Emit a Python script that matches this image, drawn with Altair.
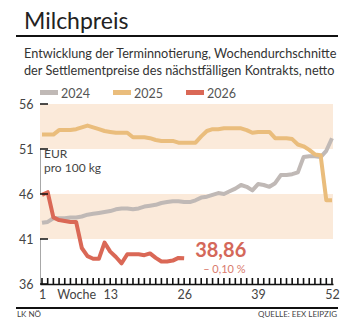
import altair as alt
import pandas as pd

# Weekly averages of the front-month settlement price, EUR per 100 kg
weeks = list(range(1, 53))
price_2024 = [
    42.8, 42.9, 43.3, 43.3, 43.3, 43.4, 43.4, 43.5, 43.7, 43.8,
    43.9, 44.0, 44.1, 44.3, 44.4, 44.4, 44.3, 44.4, 44.6, 44.7,
    44.8, 45.0, 45.1, 45.2, 45.2, 45.1, 45.1, 45.3, 45.6, 45.7,
    45.9, 46.1, 46.0, 46.3, 46.6, 47.0, 46.8, 46.4, 47.1, 47.0,
    46.8, 47.2, 48.1, 48.1, 48.2, 48.4, 50.1, 50.2, 50.2, 50.1,
    50.8, 52.2,
]
price_2025 = [
    52.6, 52.6, 52.6, 53.1, 53.1, 53.1, 53.2, 53.4, 53.6, 53.4,
    53.2, 53.0, 52.9, 52.8, 52.8, 52.8, 52.3, 52.3, 52.3, 52.2,
    52.0, 51.9, 51.9, 51.9, 51.7, 51.7, 51.7, 51.7, 52.4, 53.0,
    53.2, 53.2, 53.3, 53.3, 53.3, 53.3, 53.1, 52.8, 52.9, 52.9,
    52.9, 52.2, 52.2, 52.2, 52.1, 51.5, 51.3, 50.9, 50.4, 50.3,
    45.3, 45.3,
]
weeks_2026 = list(range(1, 27))
price_2026 = [
    45.9, 46.2, 43.4, 43.1, 43.0, 42.9, 42.9, 40.0, 39.1, 38.8,
    38.8, 40.6, 39.6, 39.0, 38.3, 39.3, 39.3, 39.3, 39.2, 39.4,
    38.9, 38.5, 38.5, 38.6, 38.90, 38.86,
]

years = ["2024", "2025", "2026"]
year_colors = ["#C0B9B6", "#EABD7C", "#DA6856"]
band_low = [41, 51]
band_high = [46, 56]
y_ticks = [36, 41, 46, 51, 56]
x_labels = [1, 7, 13, 26, 39, 52]

FONT = "Lato"
W, H = 293, 180

df = pd.concat([
    pd.DataFrame({"Woche": weeks, "Preis": price_2024, "Jahr": "2024"}),
    pd.DataFrame({"Woche": weeks, "Preis": price_2025, "Jahr": "2025"}),
    pd.DataFrame({"Woche": weeks_2026, "Preis": price_2026, "Jahr": "2026"}),
])

xs = alt.Scale(domain=[0.648, 52.18], nice=False, zero=False)
ys = alt.Scale(domain=[36, 56], nice=False, zero=False)

x_axis = alt.Axis(
    values=x_labels, tickSize=0, grid=False, title=None,
    domainColor="#111", domainWidth=1.5, labelPadding=4,
    labelFont=FONT, labelFontSize=12.5, labelColor="#444",
    labelOverlap=False, labelFlush=False,
    labelExpr="datum.value == 7 ? 'Woche' : datum.label",
)
y_axis = alt.Axis(
    values=y_ticks, tickSize=0, grid=False, title=None,
    domainColor="#A8A8A8", domainWidth=1, labelPadding=7,
    labelFont=FONT, labelFontSize=12.5, labelColor="#444",
)

bands = alt.Chart(pd.DataFrame({"lo": band_low, "hi": band_high})).mark_rect(
    color="#FBEADA"
).encode(
    y=alt.Y("lo:Q", scale=ys, axis=y_axis),
    y2="hi:Q",
    x=alt.value(0),
    x2=alt.value(W),
)

lines = alt.Chart(df).mark_line(
    strokeWidth=4, strokeJoin="round", strokeCap="butt"
).encode(
    x=alt.X("Woche:Q", scale=xs, axis=x_axis),
    y=alt.Y("Preis:Q", scale=ys),
    color=alt.Color("Jahr:N", scale=alt.Scale(domain=years, range=year_colors), legend=None),
    order=alt.Order("Woche:Q"),
    detail="Jahr:N",
)

# inward ticks on both axes
y_tick_marks = alt.Chart(pd.DataFrame({"v": y_ticks})).mark_rule(
    color="#111", strokeWidth=1.5
).encode(y=alt.Y("v:Q", scale=ys), x=alt.value(0), x2=alt.value(8))

x_tick_marks = alt.Chart(pd.DataFrame({"w": weeks})).mark_rule(
    color="#111", strokeWidth=1.6
).encode(x=alt.X("w:Q", scale=xs), y=alt.value(H - 6), y2=alt.value(H))

# latest value and weekly change
last = price_2026[-1]
prev = price_2026[-2]
change = (last - prev) / prev * 100
last_txt = f"{last:.2f}".replace(".", ",")
chg_txt = ("– " if change < 0 else "+ ") + f"{abs(change):.2f}".replace(".", ",") + " %"

last_df = pd.DataFrame({"Woche": [weeks_2026[-1]], "Preis": [last],
                        "t": [last_txt], "c": [chg_txt]})
last_label = alt.Chart(last_df).mark_text(
    align="left", baseline="alphabetic", dx=11, dy=-1,
    font=FONT, fontSize=20, fontWeight="bold", color="#D4685A",
).encode(x=alt.X("Woche:Q", scale=xs), y=alt.Y("Preis:Q", scale=ys), text="t:N")
chg_label = alt.Chart(last_df).mark_text(
    align="left", baseline="alphabetic", dx=19, dy=15,
    font=FONT, fontSize=11, color="#D97A6C",
).encode(x=alt.X("Woche:Q", scale=xs), y=alt.Y("Preis:Q", scale=ys), text="c:N")


def text(s, x, y, size, color="#333", weight="normal", align="left"):
    return alt.Chart(pd.DataFrame({"t": [s]})).mark_text(
        align=align, baseline="alphabetic", font=FONT, fontSize=size,
        fontWeight=weight, color=color,
    ).encode(text="t:N", x=alt.value(x), y=alt.value(y))


def rule(x1, x2, y, width):
    return alt.Chart(pd.DataFrame({"a": [0]})).mark_rule(
        color="#111", strokeWidth=width
    ).encode(x=alt.value(x1), x2=alt.value(x2), y=alt.value(y))


def swatch(x, color):
    return alt.Chart(pd.DataFrame({"a": [0]})).mark_rect(color=color).encode(
        x=alt.value(x), x2=alt.value(x + 18), y=alt.value(-14), y2=alt.value(-9)
    )


title = text("Milchpreis", -16, -75, 23, color="#222")
sub1 = text("Entwicklung der Terminnotierung, Wochendurchschnitte", -16, -46, 12.7, color="#333")
sub2 = text("der Settlementpreise des nächstfälligen Kontrakts, netto", -16, -29.5, 12.7, color="#333")
unit1 = text("EUR", 4, 54, 12, color="#444")
unit2 = text("pro 100 kg", 4, 68, 12, color="#444")
foot_l = text("LK NÖ", -23, 213, 8, color="#444")
foot_r = text("QUELLE: EEX LEIPZIG", 297, 213, 8, color="#444", align="right")

legend_layers = []
for i, (yr, col) in enumerate(zip(years, year_colors)):
    x0 = i * 73
    legend_layers.append(swatch(x0, col))
    legend_layers.append(text(yr, x0 + 21, -6, 12.5, color="#555"))

chart = alt.layer(
    bands, lines, y_tick_marks, x_tick_marks, last_label, chg_label,
    title, sub1, sub2, unit1, unit2, foot_l, foot_r,
    rule(-24, 298, -68, 2.2), rule(-24, 298, 204, 2.2),
    *legend_layers,
).properties(
    width=W, height=H,
    autosize=alt.AutoSizeParams(type="none"),
    padding={"left": 40, "top": 104, "right": 19, "bottom": 44},
    background="white",
).configure_view(stroke=None)

chart.save("out.html", embed_options={"renderer": "svg", "actions": False})
